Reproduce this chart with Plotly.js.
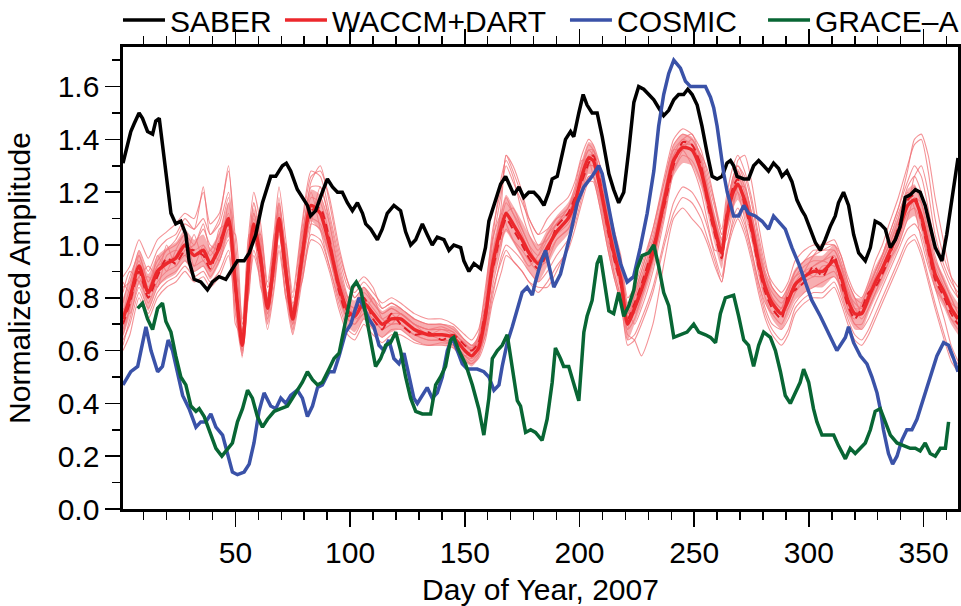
<!DOCTYPE html>
<html>
<head>
<meta charset="utf-8">
<script src="https://cdn.plot.ly/plotly-3.0.1.min.js"></script>
<style>html,body{margin:0;padding:0;background:#fff}#chart{width:961px;height:606px}</style>
</head>
<body>
<div id="chart"></div>
<script>
// ---------- SABER ----------
const saberDay = [1,4.4,5.9,8,9.5,11.7,13.9,15.3,16.8,18.2,20.4,21.9,24,26.2,28.4,29.8,32,34.9,37.8,40,42.9,45.8,48.7,50.9,53.8,56,58.9,61.8,65.4,67.6,69,70.5,72.2,74.1,77,79.2,81.4,82.8,85,87.9,90.1,92.3,94.5,96.6,98.8,101,103.2,105.4,106.8,109,111.9,114,116.2,119.1,122,124.2,126.4,128.6,131.5,133.6,135.8,138,140.9,143.1,145.2,148.2,149.6,151.8,154,156.9,159,160.5,162.7,165.6,167.8,169.9,171.4,173.6,175.7,177.9,180.1,182.3,184.5,186.6,188.1,190.3,191.7,193.9,196.1,197.5,199.7,201.6,203.3,205.5,207.7,209.9,212.8,214.9,217.1,219.3,221.5,223.7,225.8,228,230.2,232.4,234.5,236.7,238.9,241.1,243.2,245.4,247.2,249.1,251.3,253.4,255.6,257.8,260,262.2,264.3,265.8,267.2,268.7,271.6,273.7,275.9,278.1,280.3,282.4,284.6,286.8,288.3,290.4,292.6,294.8,297,298.4,300.6,302.8,305,307.1,309.3,311.5,312.9,315.1,317.3,319.5,321.7,324.6,326.8,328.9,331.1,333.3,335.5,337.7,339.8,342,344.2,346.4,348.5,350.7,352.9,355.1,358,360.1,362.3,365];
const saberVal = [1.31,1.43,1.46,1.50,1.48,1.43,1.42,1.47,1.48,1.38,1.20,1.12,1.08,1.09,1.04,0.94,0.87,0.86,0.83,0.86,0.88,0.87,0.91,0.94,0.94,0.97,1.04,1.16,1.26,1.26,1.28,1.30,1.31,1.28,1.21,1.18,1.15,1.11,1.13,1.20,1.25,1.22,1.20,1.20,1.16,1.13,1.16,1.12,1.08,1.06,1.02,1.06,1.12,1.15,1.13,1.05,1.00,1.02,1.08,1.04,1.00,1.03,1.02,0.98,1.00,0.99,0.94,0.90,0.93,0.91,0.99,1.09,1.15,1.23,1.26,1.22,1.19,1.22,1.18,1.20,1.20,1.18,1.15,1.20,1.25,1.26,1.31,1.40,1.43,1.41,1.50,1.57,1.53,1.50,1.50,1.41,1.27,1.21,1.16,1.20,1.36,1.54,1.60,1.59,1.57,1.55,1.52,1.49,1.51,1.55,1.57,1.57,1.59,1.57,1.53,1.45,1.35,1.26,1.25,1.26,1.31,1.32,1.30,1.26,1.25,1.25,1.30,1.32,1.30,1.28,1.31,1.29,1.26,1.28,1.24,1.17,1.13,1.11,1.06,1.01,0.98,1.02,1.07,1.11,1.16,1.20,1.15,1.04,0.97,0.94,0.99,1.09,1.08,1.06,0.99,1.02,1.07,1.18,1.19,1.21,1.20,1.15,1.07,0.99,0.94,1.04,1.17,1.33];

// ---------- COSMIC ----------
const cosmicDay = [1,4.4,7.4,11,13.2,16.1,18.2,20.7,22.6,24.8,27,29.8,32.8,34.9,37.1,39.3,41.5,44.4,46.6,48.7,50.9,53.8,56,58.1,60.3,62.5,65.4,67.6,69.8,72,74.1,77,79.2,81.4,83.6,85.8,87.9,90.8,93,95.2,98.1,100.3,102.4,103.9,106.1,108.2,110.4,112.6,114.8,116.9,119.1,121.3,123.5,125.7,127.8,129.3,131.5,133.6,135.8,138,140.2,142.4,144.6,146.7,148.9,151.1,155.4,158.3,160.5,162.7,164.9,166.3,168.5,170.7,172.9,175,177.2,179.4,180.8,183,185.2,188.8,191.7,196,199,201.9,205.5,208.4,209.9,212,215,217.9,220.8,223.6,226.5,229.5,232.4,234.5,236.7,238.9,241.1,244,246.2,248.4,250.5,252.7,254.9,257.1,258.5,260,261.4,262.9,264.4,265.8,267.2,269.4,271.6,273.7,276.6,279.6,282.4,284.6,286.8,289.7,292.6,295.5,298.4,301.3,305,307.9,310,312.2,313.7,315.9,317.3,319.5,322.4,325.3,327.5,329.7,331.1,332.5,334.7,336.5,338.4,340.5,342.7,344.9,347.1,350,352.9,355.8,358.7,360.9,363.1,365];
const cosmicVal = [0.47,0.52,0.54,0.69,0.60,0.52,0.54,0.64,0.60,0.52,0.43,0.38,0.31,0.33,0.33,0.36,0.31,0.28,0.21,0.14,0.13,0.14,0.17,0.25,0.37,0.44,0.39,0.38,0.42,0.40,0.43,0.45,0.42,0.35,0.39,0.46,0.47,0.52,0.52,0.58,0.67,0.70,0.76,0.80,0.76,0.72,0.69,0.62,0.60,0.64,0.57,0.55,0.59,0.50,0.42,0.40,0.43,0.46,0.42,0.44,0.50,0.60,0.65,0.60,0.55,0.53,0.53,0.52,0.50,0.45,0.47,0.54,0.63,0.69,0.76,0.82,0.84,0.81,0.86,0.93,0.98,0.84,0.89,1.04,1.16,1.22,1.26,1.30,1.27,1.17,1.04,0.93,0.86,0.88,0.99,1.12,1.28,1.45,1.57,1.65,1.70,1.67,1.62,1.60,1.60,1.60,1.60,1.56,1.52,1.45,1.36,1.27,1.20,1.15,1.11,1.11,1.15,1.12,1.11,1.09,1.06,1.11,1.09,1.06,0.99,0.93,0.86,0.79,0.73,0.68,0.64,0.60,0.62,0.65,0.69,0.63,0.58,0.55,0.50,0.44,0.38,0.30,0.21,0.17,0.20,0.26,0.30,0.30,0.34,0.42,0.49,0.58,0.63,0.62,0.57,0.52];

// ---------- GRACE-A ----------
const graceDay = [7.4,9.5,11.7,13.9,16.1,18.2,19.7,21.9,24,26.2,28.4,30.6,32.8,34.2,36.4,38.5,41.5,44.1,46.6,48.7,50.9,53.1,55.3,57.4,59.6,61.8,64,66.9,69.8,72.7,74.9,77,79.2,81.4,83.6,85.8,87.9,90.8,93,95.2,96.6,98.8,101,102.7,104.6,106.8,109,111.1,113.3,115.5,117.6,119.9,122,124.2,126.4,128.6,131.5,135.1,137.3,139.4,141.6,143.8,145.2,147.4,150.3,153.3,156.1,158.3,160.5,162,164.2,166.3,168.5,170.7,172.9,174.3,176.5,178.7,180.8,183.7,185.9,188.1,189.5,191.7,193.1,195.3,197.5,199.7,201.9,203.3,205.5,207.7,209.1,211.3,212.8,214.9,217.1,219.3,221.5,223.7,225.1,227.3,230.2,232.4,234.5,236.7,238.9,241.1,244,246.9,249.8,252,254.9,257.1,259.3,261.4,263.6,267.2,269.4,271.6,273.7,275.9,278.1,280.3,283.2,285.4,287.6,289.7,291.9,294.1,296.2,297.7,299.9,302,303.5,305.7,307.9,310.8,312.9,315.9,318,320.2,322.4,324.6,326.8,328.9,331.1,333.3,335.5,338.4,341.2,344.2,346.4,348.5,350.7,352.9,355.1,357.3,359.5,360.9];
const graceVal = [0.76,0.78,0.72,0.68,0.76,0.78,0.71,0.67,0.58,0.50,0.47,0.39,0.37,0.38,0.35,0.30,0.23,0.20,0.23,0.25,0.33,0.38,0.45,0.42,0.35,0.31,0.34,0.37,0.38,0.39,0.42,0.45,0.48,0.52,0.49,0.47,0.48,0.53,0.57,0.59,0.65,0.76,0.84,0.86,0.83,0.74,0.63,0.54,0.57,0.62,0.63,0.67,0.60,0.50,0.42,0.37,0.36,0.36,0.47,0.50,0.54,0.64,0.65,0.60,0.55,0.47,0.38,0.28,0.42,0.57,0.60,0.62,0.66,0.54,0.41,0.39,0.29,0.30,0.29,0.26,0.34,0.48,0.61,0.57,0.54,0.54,0.48,0.41,0.67,0.73,0.79,0.93,0.96,0.83,0.75,0.74,0.82,0.73,0.77,0.83,0.91,0.96,0.97,1.00,0.92,0.82,0.77,0.65,0.66,0.67,0.70,0.67,0.66,0.65,0.63,0.74,0.80,0.81,0.73,0.64,0.62,0.54,0.62,0.67,0.65,0.60,0.52,0.43,0.40,0.44,0.48,0.53,0.48,0.38,0.33,0.28,0.28,0.28,0.24,0.19,0.23,0.21,0.23,0.25,0.30,0.37,0.38,0.33,0.28,0.25,0.24,0.23,0.23,0.22,0.25,0.21,0.20,0.23,0.23,0.33];

// ---------- WACCM+DART ensemble (common day grid) ----------
const ensDay = [1,4,8,12,16,20,24,28,32,36,39,43,47,50,53,56,58,61,64,67,69,72,75,79,83,87,91,95,99,102,106,110,114,118,122,128,134,140,145,150,153,156,159,162,166,168,171,175,178,182,186,190,195,198,201,204,206,209,212,215,218,221,224,227,232,237,241,245,249,253,256,259,262,264,267,269,272,275,278,281,284,288,291,294,298,302,306,311,314,317,320,323,326,329,332,335,339,343,346,349,352,355,359,362,365];
const ensMean = [0.72,0.80,0.92,0.82,0.90,0.93,0.95,1.00,0.96,0.98,0.93,0.99,1.10,0.85,0.62,0.95,1.08,0.95,0.76,0.95,1.10,0.90,0.72,0.95,1.15,1.12,1.00,0.85,0.75,0.73,0.78,0.74,0.70,0.72,0.72,0.68,0.66,0.66,0.65,0.60,0.58,0.61,0.73,0.92,1.07,1.12,1.08,1.02,0.97,0.93,0.99,1.05,1.10,1.16,1.26,1.33,1.32,1.22,1.09,0.97,0.87,0.70,0.76,0.83,0.97,1.17,1.32,1.37,1.36,1.28,1.17,1.06,0.97,1.09,1.20,1.23,1.17,1.07,0.94,0.84,0.78,0.74,0.79,0.85,0.88,0.90,0.90,0.94,0.88,0.79,0.74,0.74,0.80,0.86,0.91,0.97,1.05,1.15,1.17,1.11,1.00,0.89,0.82,0.76,0.72];
const ensUpper = [0.80,0.87,0.98,0.89,0.96,0.99,1.01,1.06,1.02,1.04,0.99,1.05,1.16,0.92,0.68,1.01,1.14,1.01,0.82,1.01,1.16,0.96,0.78,1.01,1.21,1.19,1.07,0.91,0.81,0.79,0.84,0.80,0.75,0.77,0.76,0.72,0.70,0.70,0.69,0.64,0.62,0.66,0.79,0.99,1.14,1.19,1.15,1.09,1.04,1.00,1.06,1.11,1.16,1.22,1.32,1.39,1.38,1.28,1.15,1.03,0.93,0.76,0.82,0.89,1.03,1.23,1.38,1.42,1.41,1.34,1.23,1.12,1.03,1.15,1.26,1.29,1.23,1.13,1.00,0.90,0.84,0.80,0.85,0.91,0.94,0.96,0.96,1.00,0.94,0.85,0.80,0.80,0.86,0.92,0.97,1.03,1.11,1.21,1.23,1.17,1.06,0.95,0.88,0.82,0.78];
const ensLower = [0.65,0.73,0.85,0.75,0.84,0.87,0.89,0.94,0.90,0.92,0.87,0.93,1.03,0.78,0.57,0.89,1.02,0.89,0.70,0.89,1.04,0.84,0.66,0.89,1.09,1.05,0.94,0.79,0.69,0.67,0.72,0.68,0.65,0.67,0.68,0.64,0.62,0.62,0.61,0.56,0.54,0.57,0.67,0.85,1.00,1.05,1.01,0.95,0.90,0.86,0.92,0.99,1.04,1.10,1.20,1.27,1.26,1.16,1.03,0.91,0.81,0.64,0.70,0.77,0.91,1.11,1.26,1.31,1.30,1.22,1.11,1.00,0.91,1.03,1.14,1.17,1.11,1.01,0.88,0.78,0.72,0.68,0.73,0.79,0.82,0.84,0.84,0.88,0.82,0.73,0.68,0.68,0.74,0.80,0.85,0.91,0.99,1.09,1.11,1.05,0.94,0.83,0.76,0.70,0.66];
const ensDashed = [0.70,0.78,0.90,0.80,0.88,0.95,0.93,0.98,0.98,0.96,0.91,1.01,1.08,0.83,0.64,0.97,1.06,0.93,0.78,0.97,1.08,0.88,0.74,0.97,1.13,1.14,1.02,0.83,0.73,0.75,0.80,0.72,0.68,0.74,0.70,0.66,0.67,0.64,0.66,0.62,0.60,0.63,0.75,0.90,1.05,1.10,1.06,1.00,0.95,0.91,0.97,1.07,1.12,1.18,1.24,1.31,1.34,1.24,1.07,0.95,0.85,0.72,0.78,0.85,0.99,1.15,1.30,1.39,1.38,1.30,1.15,1.04,0.95,1.11,1.22,1.25,1.15,1.05,0.92,0.82,0.76,0.72,0.81,0.83,0.86,0.92,0.88,0.96,0.86,0.77,0.72,0.76,0.82,0.84,0.89,0.95,1.07,1.17,1.19,1.09,0.98,0.87,0.80,0.74,0.70];
const member1 = [0.88,0.92,1.02,0.95,1.02,1.05,1.08,1.12,1.10,1.20,1.08,1.12,1.28,1.02,0.72,1.06,1.20,1.08,0.86,1.06,1.22,1.02,0.82,1.08,1.28,1.26,1.12,0.96,0.84,0.82,0.86,0.82,0.78,0.80,0.78,0.74,0.72,0.72,0.70,0.66,0.64,0.68,0.82,1.05,1.22,1.30,1.24,1.16,1.10,1.04,1.10,1.14,1.18,1.24,1.34,1.40,1.38,1.30,1.18,1.06,0.96,0.80,0.84,0.92,1.06,1.26,1.40,1.44,1.42,1.36,1.26,1.16,1.06,1.18,1.30,1.34,1.28,1.18,1.04,0.92,0.86,0.82,0.86,0.94,0.98,1.00,1.00,1.02,0.96,0.88,0.82,0.80,0.86,0.94,1.00,1.08,1.18,1.30,1.38,1.40,1.28,1.10,0.95,0.88,0.84];
const member2 = [0.60,0.66,0.80,0.72,0.80,0.84,0.86,0.90,0.86,0.88,0.84,0.88,0.96,0.74,0.58,0.84,0.96,0.86,0.68,0.84,0.98,0.80,0.66,0.86,1.02,1.00,0.90,0.76,0.66,0.64,0.70,0.66,0.63,0.66,0.66,0.63,0.62,0.62,0.61,0.56,0.55,0.57,0.64,0.78,0.90,0.96,0.94,0.90,0.86,0.82,0.86,0.92,0.98,1.06,1.16,1.24,1.24,1.14,1.00,0.88,0.78,0.64,0.66,0.72,0.84,1.02,1.16,1.22,1.20,1.14,1.06,0.96,0.88,0.98,1.08,1.12,1.06,0.96,0.84,0.74,0.68,0.64,0.68,0.76,0.80,0.82,0.82,0.86,0.80,0.72,0.66,0.64,0.68,0.74,0.80,0.86,0.94,1.02,1.04,0.98,0.88,0.78,0.66,0.58,0.55];
const member3 = [0.76,0.74,0.86,0.88,0.84,0.96,0.98,0.96,1.04,0.94,0.98,0.94,1.06,1.04,0.70,0.82,1.02,1.04,0.84,0.88,1.04,1.00,0.78,0.86,1.08,1.22,1.10,0.94,0.80,0.72,0.74,0.80,0.72,0.70,0.74,0.70,0.66,0.68,0.66,0.63,0.60,0.60,0.66,0.84,1.00,1.12,1.14,1.06,1.00,0.92,0.94,1.02,1.06,1.12,1.20,1.30,1.36,1.30,1.16,1.04,0.94,0.76,0.70,0.76,0.90,1.10,1.28,1.36,1.40,1.32,1.22,1.10,1.00,1.02,1.14,1.22,1.22,1.12,1.00,0.88,0.80,0.74,0.76,0.82,0.88,0.92,0.94,0.92,0.92,0.84,0.76,0.72,0.76,0.82,0.88,0.94,1.00,1.10,1.18,1.16,1.06,0.94,0.86,0.80,0.74];
const member4 = [0.82,0.90,0.86,0.80,0.96,0.90,0.98,1.04,0.92,1.00,0.90,1.06,1.08,0.70,0.66,1.04,1.04,0.84,0.78,1.04,1.06,0.80,0.76,1.04,1.20,1.06,0.92,0.80,0.72,0.76,0.76,0.70,0.70,0.74,0.70,0.66,0.66,0.64,0.62,0.58,0.60,0.66,0.84,1.02,1.12,1.08,1.02,0.96,0.92,0.96,1.04,1.08,1.14,1.22,1.32,1.32,1.26,1.14,1.00,0.88,0.78,0.68,0.82,0.90,1.06,1.24,1.36,1.36,1.30,1.20,1.08,0.98,0.98,1.16,1.24,1.20,1.10,0.98,0.86,0.78,0.74,0.76,0.84,0.88,0.90,0.88,0.92,0.92,0.82,0.74,0.72,0.78,0.84,0.90,0.96,1.02,1.12,1.20,1.14,1.02,0.92,0.84,0.78,0.72,0.70];
const member5 = [0.66,0.76,0.96,0.86,0.92,0.98,1.02,1.08,1.06,1.22,1.04,1.10,1.30,0.90,0.64,1.00,1.16,1.00,0.80,1.00,1.16,0.94,0.74,1.02,1.24,1.30,1.16,0.98,0.86,0.80,0.84,0.78,0.74,0.76,0.74,0.70,0.68,0.68,0.67,0.62,0.60,0.64,0.78,1.00,1.20,1.34,1.28,1.18,1.08,1.00,1.02,1.08,1.14,1.20,1.30,1.38,1.36,1.26,1.12,1.00,0.90,0.72,0.78,0.86,1.00,1.20,1.36,1.40,1.42,1.32,1.20,1.10,1.02,1.12,1.26,1.30,1.24,1.10,0.96,0.86,0.80,0.76,0.82,0.90,0.94,0.98,0.98,0.98,0.92,0.82,0.76,0.74,0.82,0.90,0.96,1.04,1.14,1.28,1.40,1.42,1.34,1.18,1.00,0.88,0.80];
const member6 = [0.62,0.72,0.84,0.76,0.84,0.88,0.90,0.94,0.90,0.92,0.88,0.94,1.02,0.80,0.60,0.90,1.02,0.90,0.72,0.90,1.04,0.86,0.70,0.90,1.08,1.06,0.96,0.82,0.72,0.70,0.74,0.72,0.68,0.70,0.70,0.66,0.64,0.64,0.63,0.58,0.57,0.59,0.68,0.82,0.94,0.98,0.94,0.90,0.86,0.84,0.84,0.90,1.00,1.10,1.20,1.26,1.26,1.18,1.04,0.90,0.80,0.66,0.64,0.58,0.70,0.94,1.10,1.14,1.10,1.06,1.00,0.92,0.86,0.96,1.10,1.14,1.08,0.98,0.86,0.76,0.70,0.68,0.72,0.78,0.82,0.84,0.86,0.88,0.84,0.76,0.70,0.68,0.72,0.78,0.84,0.90,0.98,1.06,1.08,1.04,0.94,0.84,0.72,0.62,0.56];
const member7 = [0.74,0.84,0.94,0.84,0.92,0.94,0.96,1.02,0.98,1.00,0.96,1.02,1.12,0.88,0.66,0.98,1.10,0.98,0.80,0.98,1.12,0.92,0.76,0.98,1.18,1.16,1.04,0.88,0.78,0.76,0.80,0.76,0.72,0.74,0.74,0.70,0.68,0.68,0.67,0.62,0.60,0.63,0.76,0.96,1.12,1.18,1.12,1.04,0.98,0.94,1.00,1.04,1.08,1.14,1.24,1.30,1.30,1.20,1.08,0.98,0.88,0.74,0.80,0.88,1.02,1.20,1.34,1.38,1.38,1.30,1.18,1.08,1.00,1.10,1.22,1.26,1.20,1.10,0.98,0.88,0.82,0.78,0.82,0.88,0.92,0.94,0.94,0.96,0.90,0.82,0.78,0.76,0.82,0.88,0.94,1.00,1.08,1.18,1.22,1.16,1.04,0.92,0.84,0.78,0.76];
const member8 = [0.86,0.82,0.88,0.92,0.88,1.00,0.92,0.98,1.00,1.06,1.00,0.98,1.16,0.96,0.68,0.92,1.12,1.02,0.74,0.92,1.14,0.96,0.70,0.92,1.12,1.18,1.08,0.92,0.80,0.84,0.88,0.84,0.76,0.78,0.76,0.72,0.70,0.70,0.68,0.64,0.62,0.62,0.70,0.90,1.16,1.34,1.30,1.20,1.10,1.04,1.06,1.10,1.12,1.18,1.26,1.34,1.34,1.26,1.12,1.00,0.90,0.76,0.74,0.80,0.94,1.12,1.30,1.38,1.38,1.34,1.28,1.16,1.04,1.06,1.16,1.32,1.34,1.24,1.08,0.94,0.84,0.80,0.80,0.84,0.90,0.96,1.00,1.00,0.96,0.86,0.80,0.74,0.78,0.84,0.90,0.98,1.06,1.14,1.26,1.30,1.20,1.04,0.92,0.86,0.82];
const member9 = [0.78,0.88,0.96,0.86,0.94,0.98,1.00,1.04,1.00,1.08,0.98,1.04,1.18,0.90,0.66,1.00,1.12,0.98,0.78,1.02,1.18,0.94,0.76,1.00,1.22,1.22,1.08,0.90,0.78,0.76,0.82,0.78,0.74,0.76,0.74,0.70,0.68,0.69,0.67,0.62,0.61,0.64,0.76,0.96,1.10,1.16,1.12,1.06,1.00,0.96,1.02,1.08,1.12,1.18,1.28,1.36,1.34,1.24,1.12,1.00,0.90,0.74,0.78,0.86,1.00,1.20,1.34,1.40,1.38,1.30,1.20,1.08,1.00,1.12,1.24,1.28,1.22,1.12,0.98,0.88,0.80,0.76,0.80,0.86,0.90,0.92,0.94,0.98,0.92,0.82,0.76,0.76,0.82,0.88,0.94,1.00,1.10,1.22,1.26,1.20,1.08,0.96,0.86,0.80,0.74];
const member10 = [0.68,0.76,0.88,0.78,0.86,0.90,0.92,0.96,0.92,0.94,0.90,0.96,1.06,0.82,0.60,0.92,1.04,0.92,0.74,0.92,1.06,0.86,0.70,0.92,1.10,1.08,0.96,0.82,0.72,0.70,0.76,0.72,0.68,0.70,0.70,0.66,0.64,0.64,0.63,0.58,0.56,0.59,0.70,0.88,1.02,1.06,1.02,0.98,0.94,0.90,0.96,1.02,1.06,1.12,1.22,1.30,1.30,1.20,1.06,0.94,0.84,0.68,0.72,0.80,0.94,1.14,1.28,1.34,1.32,1.24,1.14,1.04,0.94,1.06,1.16,1.20,1.14,1.04,0.90,0.80,0.74,0.70,0.76,0.82,0.86,0.88,0.88,0.90,0.84,0.76,0.70,0.70,0.76,0.82,0.88,0.94,1.02,1.12,1.14,1.08,0.96,0.86,0.78,0.72,0.68];
const member11 = [0.84,0.86,0.98,0.90,0.98,1.02,1.04,1.10,1.06,1.10,1.04,1.08,1.20,0.96,0.70,1.02,1.16,1.04,0.84,1.02,1.16,0.98,0.80,1.06,1.26,1.28,1.18,1.00,0.86,0.80,0.84,0.80,0.76,0.78,0.76,0.72,0.70,0.70,0.69,0.64,0.62,0.65,0.80,1.02,1.26,1.32,1.26,1.12,1.04,0.98,1.04,1.10,1.14,1.20,1.30,1.36,1.36,1.26,1.14,1.02,0.92,0.78,0.82,0.90,1.04,1.24,1.38,1.42,1.40,1.34,1.24,1.14,1.04,1.14,1.26,1.30,1.26,1.16,1.02,0.90,0.84,0.80,0.84,0.90,0.94,0.96,0.98,1.00,0.94,0.86,0.80,0.78,0.84,0.90,0.96,1.04,1.14,1.24,1.30,1.26,1.14,1.00,0.90,0.84,0.80];
const member12 = [0.64,0.70,0.82,0.74,0.82,0.86,0.88,0.92,0.88,0.90,0.86,0.90,0.98,0.76,0.59,0.86,0.98,0.88,0.70,0.86,1.00,0.82,0.68,0.88,1.04,1.02,0.92,0.78,0.68,0.66,0.72,0.68,0.65,0.68,0.68,0.64,0.62,0.63,0.62,0.57,0.55,0.58,0.66,0.80,0.96,1.00,0.98,0.94,0.90,0.86,0.90,0.96,1.02,1.08,1.18,1.26,1.26,1.16,1.02,0.90,0.80,0.62,0.64,0.70,0.82,1.00,1.12,1.18,1.16,1.10,1.02,0.94,0.86,0.96,1.06,1.10,1.04,0.94,0.82,0.72,0.66,0.62,0.66,0.74,0.78,0.80,0.80,0.84,0.78,0.70,0.64,0.62,0.66,0.72,0.78,0.84,0.92,1.00,1.02,0.96,0.86,0.76,0.64,0.56,0.52];
const members = [member1, member2, member3, member4, member5, member6, member7, member8, member9, member10, member11, member12];

const xTickVals = [50,100,150,200,250,300,350];
const yTickVals = [0.0,0.2,0.4,0.6,0.8,1.0,1.2,1.4,1.6];

const FONT = 'Liberation Sans, Arial, Helvetica, sans-serif';
const RED = 'rgb(236,40,44)';
const SM = {shape: 'spline', smoothing: 0.6};
const traces = [];

members.forEach(function (m) {
  traces.push({x: ensDay, y: m, type: 'scatter', mode: 'lines', showlegend: false, hoverinfo: 'skip',
    line: Object.assign({color: 'rgba(240,110,115,0.75)', width: 1.1}, SM)});
});
traces.push({x: ensDay, y: ensLower, type: 'scatter', mode: 'lines', showlegend: false, hoverinfo: 'skip',
  line: Object.assign({width: 0}, SM)});
traces.push({x: ensDay, y: ensUpper, type: 'scatter', mode: 'lines', showlegend: false, hoverinfo: 'skip',
  fill: 'tonexty', fillcolor: 'rgba(242,120,125,0.6)', line: Object.assign({width: 0}, SM)});
traces.push({x: ensDay, y: ensDashed, type: 'scatter', mode: 'lines', showlegend: false, hoverinfo: 'skip',
  line: Object.assign({color: 'rgb(225,30,38)', width: 2, dash: '8px,5px'}, SM)});
traces.push({x: ensDay, y: ensMean, type: 'scatter', mode: 'lines', name: 'WACCM+DART', legend: 'legend2',
  line: Object.assign({color: RED, width: 3.5}, SM)});
traces.push({x: saberDay, y: saberVal, type: 'scatter', mode: 'lines', name: 'SABER', legend: 'legend',
  line: {color: '#000000', width: 3.5}});
traces.push({x: cosmicDay, y: cosmicVal, type: 'scatter', mode: 'lines', name: 'COSMIC', legend: 'legend3',
  line: {color: 'rgb(58,82,168)', width: 3.5}});
traces.push({x: graceDay, y: graceVal, type: 'scatter', mode: 'lines', name: 'GRACE\u2013A', legend: 'legend4',
  line: {color: 'rgb(8,102,52)', width: 3.5}});

const axisCommon = {
  showline: true, linecolor: '#000', linewidth: 2.6, mirror: 'allticks',
  ticks: 'outside', ticklen: 15, tickwidth: 1.5, tickcolor: '#000',
  showgrid: false, zeroline: false,
  tickfont: {family: FONT, size: 30, color: '#000'}
};

function legendAt(xp) {
  return {orientation: 'h', x: xp, xanchor: 'left', y: 1.0585, yanchor: 'middle',
    font: {family: FONT, size: 30, color: '#000'}, itemwidth: 42, bgcolor: 'rgba(0,0,0,0)',
    borderwidth: 0, tracegroupgap: 0};
}

const layout = {
  width: 961, height: 606,
  margin: {l: 123, r: 3, t: 47, b: 97, autoexpand: false},
  paper_bgcolor: '#fff', plot_bgcolor: '#fff',
  font: {family: FONT, color: '#000'},
  showlegend: true,
  legend: legendAt(-0.006),
  legend2: legendAt(0.1880),
  legend3: legendAt(0.5293),
  legend4: legendAt(0.7665),
  xaxis: Object.assign({}, axisCommon, {
    range: [1, 365], tickmode: 'array', tickvals: xTickVals,
    minor: {dtick: 10, tick0: 0, ticklen: 8, tickwidth: 1.5, tickcolor: '#000', ticks: 'outside', showgrid: false},
    title: {text: 'Day of Year, 2007', font: {family: FONT, size: 30, color: '#000'}, standoff: 16}
  }),
  yaxis: Object.assign({}, axisCommon, {
    range: [0, 1.75], tickmode: 'array', tickvals: yTickVals, tickformat: '.1f',
    minor: {dtick: 0.1, tick0: 0, ticklen: 8, tickwidth: 1.5, tickcolor: '#000', ticks: 'outside', showgrid: false},
    title: {text: 'Normalized Amplitude', font: {family: FONT, size: 30, color: '#000'}, standoff: 18}
  })
};

Plotly.newPlot('chart', traces, layout, {displayModeBar: false, staticPlot: true});
</script>
</body>
</html>
